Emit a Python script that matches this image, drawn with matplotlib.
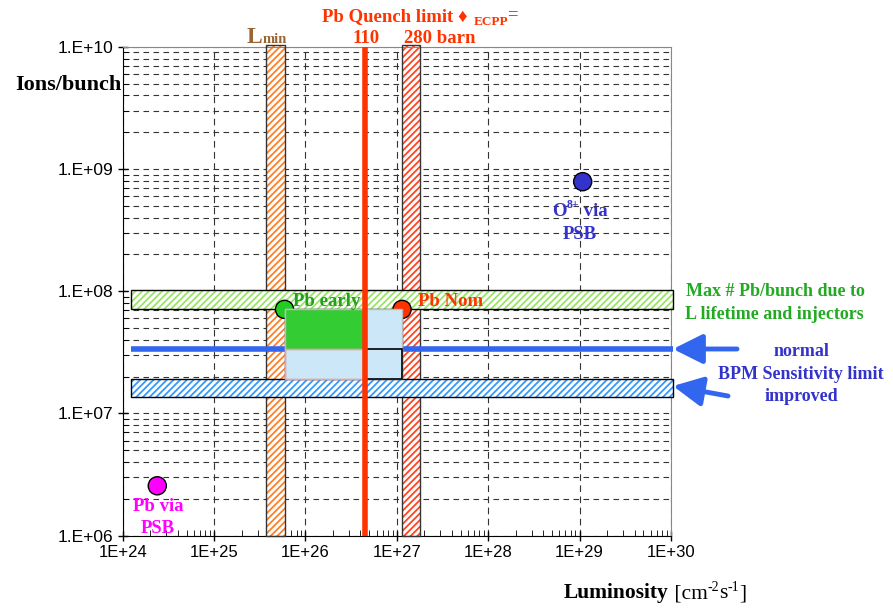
import matplotlib
matplotlib.use("Agg")
import matplotlib.pyplot as plt
from matplotlib.patches import Rectangle
import numpy as np

# ---------------------------------------------------------------------------
# data
# ---------------------------------------------------------------------------
x_decades = [1e24, 1e25, 1e26, 1e27, 1e28, 1e29, 1e30]
x_labels = ["1E+24", "1E+25", "1E+26", "1E+27", "1E+28", "1E+29", "1E+30"]
y_decades = [1e6, 1e7, 1e8, 1e9, 1e10]
y_labels = ["1.E+06", "1.E+07", "1.E+08", "1.E+09", "1.E+10"]

# vertical limits (luminosity)
lmin_band = (3.7e25, 5.9e25)
quench_110 = 4.5e26
quench_280_band = (1.14e27, 1.77e27)

# horizontal limits (ions/bunch)
max_pb_band = (7.1e7, 1.02e8)
bpm_normal = 3.37e7
bpm_improved_band = (1.36e7, 1.93e7)
band_x = (1.23e24, 1.05e30)

# operating box
box_x = [5.9e25, 4.5e26, 1.14e27]
box_y = [1.93e7, 3.37e7, 7.1e7]

# points
pt_names = ["Pb early", "Pb Nom", "O8+ via PSB", "Pb via PSB"]
pt_lumi = [5.9e25, 1.14e27, 1.08e29, 2.39e24]
pt_ions = [7.1e7, 7.1e7, 7.87e8, 2.56e6]
pt_colors = ["#22CC22", "#FF3300", "#3333CC", "#FF00FF"]

W, H = 893, 612

plt.rcParams["hatch.linewidth"] = 1.3

SERIF = ["Liberation Serif", "DejaVu Sans"]


def ftext(px, py, s, **kw):
    # place text by pixel position of the reference image
    kw.setdefault("family", SERIF)
    kw.setdefault("fontweight", "bold")
    return fig.text(px / W, 1 - py / H, s, **kw)


def chain(px, py, pieces, **kw):
    # pieces: (text, fontsize, dy, weight) drawn one after the other
    r = fig.canvas.get_renderer()
    x = px
    for s, fs, dy, wt in pieces:
        t = ftext(x, py - dy, s, fontsize=fs, fontweight=wt, **kw)
        x += t.get_window_extent(r).width
    return x


fig = plt.figure(figsize=(W / 100, H / 100), dpi=100)
ax = fig.add_axes([122.7 / W, 1 - 535.7 / H, (671 - 122.7) / W, (535.7 - 46.7) / H])
ax.set_xscale("log")
ax.set_yscale("log")
ax.set_xlim(x_decades[0], x_decades[-1])
ax.set_ylim(y_decades[0], y_decades[-1])

# grid
ax.grid(which="both", axis="y", ls=(0, (5, 4)), color="#333333", lw=0.8)
ax.grid(which="major", axis="x", ls=(0, (6, 4)), color="#333333", lw=0.8)
ax.set_axisbelow(True)

# ticks
ax.set_xticks(x_decades)
ax.set_xticklabels(x_labels, family="Liberation Sans", fontsize=12)
ax.set_yticks(y_decades)
ax.set_yticklabels(y_labels, family="Liberation Sans", fontsize=12.5)
ax.tick_params(which="major", direction="inout", length=7, width=1)
ax.tick_params(which="minor", axis="x", direction="in", length=4)
ax.tick_params(which="minor", axis="y", direction="in", length=4)
ax.yaxis.set_minor_formatter(matplotlib.ticker.NullFormatter())
ax.xaxis.set_minor_formatter(matplotlib.ticker.NullFormatter())
for s in ["top", "right"]:
    ax.spines[s].set_color("#888888")

# horizontal hatched bands
for (y0, y1), hc in [(max_pb_band, "#99E466"), (bpm_improved_band, "#3399FF")]:
    ax.add_patch(Rectangle((band_x[0], y0), band_x[1] - band_x[0], y1 - y0,
                           facecolor="white", edgecolor=hc, hatch="/////",
                           lw=0, zorder=3, clip_on=False))
    ax.add_patch(Rectangle((band_x[0], y0), band_x[1] - band_x[0], y1 - y0,
                           fill=False, edgecolor="black", lw=1, zorder=3.1,
                           clip_on=False))

# BPM normal line
ax.plot(band_x, [bpm_normal, bpm_normal], color="#3366EE", lw=4, zorder=3.2,
        solid_capstyle="butt", clip_on=False)

# operating box
ax.add_patch(Rectangle((box_x[0], box_y[0]), box_x[2] - box_x[0], box_y[2] - box_y[0],
                       facecolor="#CCE8F8", edgecolor="#BBBBBB", lw=1, zorder=3.5))
ax.add_patch(Rectangle((box_x[0], box_y[1]), box_x[1] - box_x[0], box_y[2] - box_y[1],
                       facecolor="#33CC33", edgecolor="#BBBBBB", lw=1, zorder=3.6))
ax.add_patch(Rectangle((box_x[0], box_y[0]), box_x[1] - box_x[0], box_y[1] - box_y[0],
                       fill=False, edgecolor="#FF9999", lw=1, zorder=3.6))
ax.add_patch(Rectangle((box_x[1], box_y[0]), box_x[2] - box_x[1], box_y[1] - box_y[0],
                       fill=False, edgecolor="black", lw=1.2, zorder=3.7))

# vertical hatched bands
ytop = 10 ** 10.016
for (x0, x1), hc in [(lmin_band, "#FF7F27"), (quench_280_band, "#FF4422")]:
    ax.add_patch(Rectangle((x0, y_decades[0]), x1 - x0, ytop - y_decades[0],
                           facecolor="white", edgecolor=hc, hatch="/////",
                           lw=0, zorder=2.5, clip_on=False))
    ax.add_patch(Rectangle((x0, y_decades[0]), x1 - x0, ytop - y_decades[0],
                           fill=False, edgecolor="#333333", lw=1, zorder=2.6,
                           clip_on=False))

# quench limit 110 barn
ax.plot([quench_110, quench_110], [y_decades[0], y_decades[-1]], color="#FF3300",
        lw=4, zorder=3.8, solid_capstyle="butt")

# points
ax.scatter(pt_lumi, pt_ions, s=170, c=pt_colors, edgecolors="black",
           linewidths=1, zorder=3.4, clip_on=False)

# point labels
ftext(293, 306, "Pb early", color="#22A022", fontsize=13.5, zorder=5)
ftext(418, 306, "Pb Nom", color="#FF3300", fontsize=13.5, zorder=5)
chain(552, 216, [("O", 13.5, 0, "bold"), ("8+", 8.5, 8, "bold"),
                 (" via", 13.5, 0, "bold")], color="#3333CC")
ftext(580, 239, "PSB", color="#3333CC", fontsize=13.5, ha="center")
ftext(158, 511, "Pb via", color="#FF00FF", fontsize=13.5, ha="center")
ftext(158, 533, "PSB", color="#FF00FF", fontsize=13.5, ha="center")

# top labels
ftext(247, 43, "L", color="#996633", fontsize=17)
ftext(263, 43, "min", color="#996633", fontsize=10.5)
ftext(322, 21, "Pb Quench limit \u2666", color="#FF3300", fontsize=13.5)
ftext(474, 25, "ECPP", color="#FF3300", fontsize=9.5)
ftext(507, 19, "=", color="#FF3300", fontsize=13.5)
ftext(366, 43, "110", color="#FF3300", fontsize=13.5, ha="center")
ftext(440, 43, "280 barn", color="#FF3300", fontsize=13.5, ha="center")

# right side labels
ftext(686, 296, "Max # Pb/bunch due to", color="#22AA22", fontsize=13)
ftext(685, 319, "L lifetime and injectors", color="#22AA22", fontsize=13)
ftext(801, 356, "normal", color="#3333CC", fontsize=13, ha="center")
ftext(801, 379, "BPM Sensitivity limit", color="#3333CC", fontsize=13, ha="center")
ftext(801, 401, "improved", color="#3333CC", fontsize=13, ha="center")

# arrows
arrow_kw = dict(arrowstyle="-|>,head_length=0.9,head_width=0.45", color="#3366EE",
                lw=3.5, mutation_scale=20, shrinkA=0, shrinkB=0)
ax.annotate("", xy=(673 / W, 1 - 349 / H), xytext=(737 / W, 1 - 349 / H),
            xycoords="figure fraction", textcoords="figure fraction",
            arrowprops=arrow_kw, annotation_clip=False)
ax.annotate("", xy=(673 / W, 1 - 386 / H), xytext=(728 / W, 1 - 396 / H),
            xycoords="figure fraction", textcoords="figure fraction",
            arrowprops=arrow_kw, annotation_clip=False)

# axis titles
ftext(122, 90, "Ions/bunch", color="black", fontsize=16, ha="right")
chain(564, 598, [("Luminosity", 15.5, 0, "bold"), (" [cm", 15.5, 0, "normal"),
                 ("-2", 10, 7, "normal"), ("s", 15.5, 0, "normal"),
                 ("-1", 10, 7, "normal"), ("]", 15.5, 0, "normal")],
      color="black")

fig.savefig("out.png", dpi=100)
